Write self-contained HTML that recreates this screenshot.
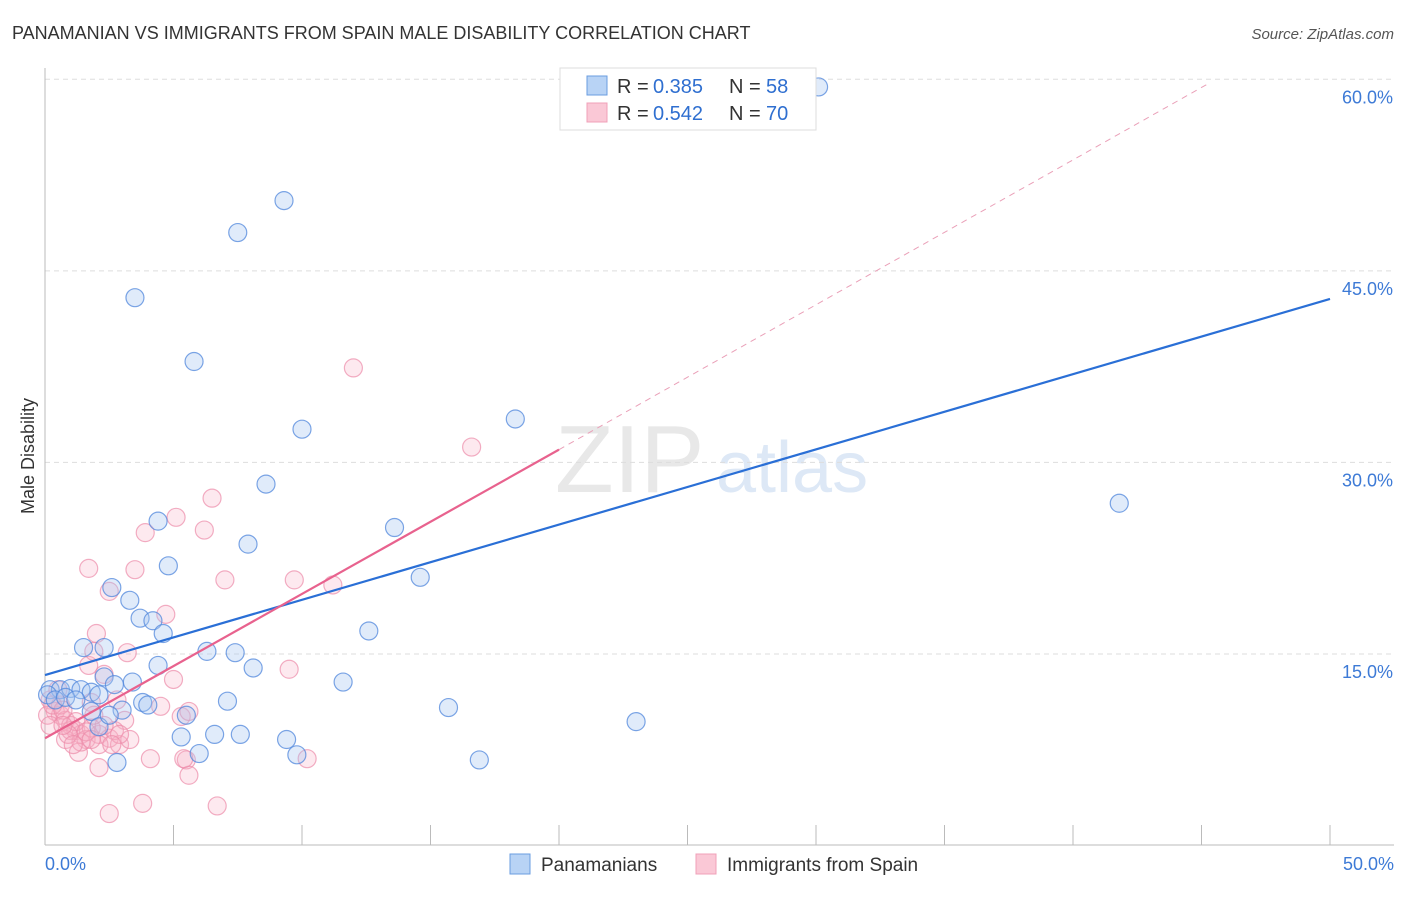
<!DOCTYPE html>
<html><head><meta charset="utf-8"><style>
body{margin:0;background:#fff;font-family:"Liberation Sans",sans-serif}
svg text{font-family:"Liberation Sans",sans-serif}
</style></head><body>
<svg width="1406" height="892" xmlns="http://www.w3.org/2000/svg">
<text x="12" y="39" font-size="18" fill="#333">PANAMANIAN VS IMMIGRANTS FROM SPAIN MALE DISABILITY CORRELATION CHART</text>
<text x="1394" y="39" font-size="15" fill="#555" font-style="italic" text-anchor="end">Source: ZipAtlas.com</text>
<text transform="translate(34,456) rotate(-90)" font-size="18" fill="#333" text-anchor="middle">Male Disability</text>
<g>
<text x="555" y="492" font-size="96" fill="#e8e8e8" font-family="Liberation Serif,serif">ZIP</text>
<text x="716" y="492" font-size="72" fill="#dde8f6">atlas</text>
</g>
<g id="grid"></g><g id="axes"></g><g id="pts"></g><g id="lines"></g>
<g>
<rect x="560" y="68" width="256" height="62" fill="#fff" stroke="#ddd"/>
<rect x="587" y="76" width="20" height="19" fill="#b8d3f5" stroke="#6a9de0"/>
<rect x="587" y="103" width="20" height="19" fill="#fac8d6" stroke="#f0a0b8"/>
<text x="617" y="93" font-size="20" fill="#333">R =</text>
<text x="653" y="93" font-size="20" fill="#2f6fd0">0.385</text>
<text x="729" y="93" font-size="20" fill="#333">N =</text>
<text x="766" y="93" font-size="20" fill="#2f6fd0">58</text>
<text x="617" y="120" font-size="20" fill="#333">R =</text>
<text x="653" y="120" font-size="20" fill="#2f6fd0">0.542</text>
<text x="729" y="120" font-size="20" fill="#333">N =</text>
<text x="766" y="120" font-size="20" fill="#2f6fd0">70</text>
</g>
<g>
<rect x="510" y="854" width="20" height="20" fill="#b8d3f5" stroke="#6a9de0"/>
<text x="541" y="871" font-size="19" fill="#333">Panamanians</text>
<rect x="696" y="854" width="20" height="20" fill="#fac8d6" stroke="#f0a0b8"/>
<text x="727" y="871" font-size="19" fill="#333">Immigrants from Spain</text>
</g>
</svg>
<script>
const blueX=[30.1,9.3,7.5,3.5,5.8,10.0,18.3,41.8,8.6,4.4,13.6,7.9,4.8,14.6,2.6,3.3,3.7,4.2,4.6,12.6,1.5,2.3,6.3,7.4,4.4,8.1,2.3,3.4,2.7,11.6,0.2,0.6,1.0,1.4,1.8,2.1,3.8,7.1,3.0,5.5,15.7,1.8,2.1,5.3,6.6,7.6,9.4,6.0,9.8,16.9,2.8,23.0,0.1,0.4,0.8,1.2,2.5,4.0];
const blueY=[59.4,50.5,48.0,42.9,37.9,32.6,33.4,26.8,28.3,25.4,24.9,23.6,21.9,21.0,20.2,19.2,17.8,17.6,16.6,16.8,15.5,15.5,15.2,15.1,14.1,13.9,13.2,12.8,12.6,12.8,12.2,12.2,12.3,12.2,12.0,11.8,11.2,11.3,10.6,10.2,10.8,10.5,9.3,8.5,8.7,8.7,8.3,7.2,7.1,6.7,6.5,9.7,11.8,11.4,11.6,11.4,10.2,11.0];
const pinkX=[12.0,16.6,6.5,5.1,6.2,3.9,1.7,3.5,7.0,9.7,11.2,2.5,4.7,2.0,3.2,1.7,1.9,9.5,2.3,5.0,2.8,1.8,5.3,5.6,0.2,0.4,0.6,0.8,1.0,1.2,1.4,1.6,2.1,2.5,2.9,4.5,4.1,5.5,10.2,3.1,0.6,0.8,1.3,2.1,5.6,3.8,6.7,2.5,1.0,1.2,1.4,1.8,2.7,0.1,0.3,0.5,0.7,0.9,2.1,2.3,3.3,2.9,1.6,1.1,1.9,0.2,5.4,0.7,1.8,2.6];
const pinkY=[37.4,31.2,27.2,25.7,24.7,24.5,21.7,21.6,20.8,20.8,20.4,19.9,18.1,16.6,15.1,14.1,15.2,13.8,13.4,13.0,11.4,11.2,10.1,10.5,11.4,10.5,10.2,9.8,9.4,9.0,8.7,8.3,8.7,8.4,7.9,10.9,6.8,6.7,6.8,9.8,11.0,8.3,7.3,6.1,5.5,3.3,3.1,2.5,9.0,9.7,8.1,9.2,9.0,10.2,11.0,12.2,10.6,8.7,7.9,9.4,8.3,8.7,8.9,7.9,10.2,9.4,6.8,9.4,8.3,7.9];
const blueTrend=[[0,13.35],[50,42.8]];
const pinkTrend=[[0,8.4],[20,31.0]];
const pinkDash=[[20,31.0],[45.3,59.7]];
const yTicks=[15,30,45,60];
const xTicks=[0,5,10,15,20,25,30,35,40,45,50];
const NS='http://www.w3.org/2000/svg';
const sx=v=>45+v*25.7, sy=v=>845.5-v*12.77;
function mk(t,a,p){const e=document.createElementNS(NS,t);for(const k in a)e.setAttribute(k,a[k]);document.getElementById(p).appendChild(e);return e;}
yTicks.forEach(t=>{
 const l=mk('line',{x1:45,x2:1394,y1:sy(t),y2:sy(t),stroke:'#ddd','stroke-dasharray':'5,4'},'grid');
 
 
 const tx=mk('text',{x:1393,y:sy(t)+24,'font-size':18,fill:'#3d7ad6','text-anchor':'end'},'grid');
 tx.textContent=t.toFixed(1)+'%';
 
 
});
const ax=mk('line',{x1:45,x2:45,y1:68,y2:845,stroke:'#bbb'},'axes');


const bx=mk('line',{x1:45,x2:1394,y1:845,y2:845,stroke:'#bbb'},'axes');


xTicks.forEach(t=>{
 const l=mk('line',{x1:sx(t),x2:sx(t),y1:825,y2:845,stroke:'#bbb'},'axes');
 
 
});
[[0,'start'],[50,'end']].forEach(([t,a])=>{
 const tx=mk('text',{x:t==0?45:1394,y:870,'font-size':18,fill:'#3d7ad6','text-anchor':a},'axes');
 tx.textContent=t.toFixed(1)+'%';
 
 
});
pinkX.forEach((x,i)=>{
 const c=mk('circle',{cx:sx(x),cy:sy(pinkY[i]),r:9,fill:'rgba(248,175,198,0.28)',stroke:'rgba(236,140,170,0.7)','stroke-width':1.2},'pts');
 
 
});
blueX.forEach((x,i)=>{
 const c=mk('circle',{cx:sx(x),cy:sy(blueY[i]),r:9,fill:'rgba(165,198,240,0.35)',stroke:'rgba(80,135,220,0.75)','stroke-width':1.2},'pts');
 
 
});
const d=mk('line',{x1:sx(pinkDash[0][0]),y1:sy(pinkDash[0][1]),x2:sx(pinkDash[1][0]),y2:sy(pinkDash[1][1]),stroke:'#eaa0b8','stroke-dasharray':'6,5','stroke-width':1},'lines');


const b=mk('line',{x1:sx(blueTrend[0][0]),y1:sy(blueTrend[0][1]),x2:sx(blueTrend[1][0]),y2:sy(blueTrend[1][1]),stroke:'#2a6fd6','stroke-width':2.2},'lines');


const p=mk('line',{x1:sx(pinkTrend[0][0]),y1:sy(pinkTrend[0][1]),x2:sx(pinkTrend[1][0]),y2:sy(pinkTrend[1][1]),stroke:'#e8628e','stroke-width':2.2},'lines');


</script>
</body></html>
